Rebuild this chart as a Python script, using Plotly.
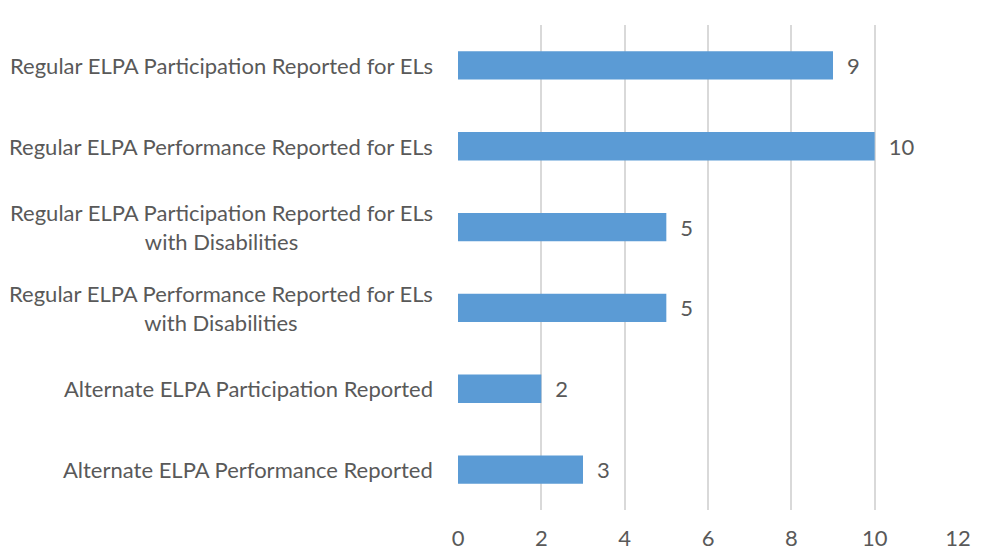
import plotly.graph_objects as go

categories = [
    "Regular ELPA Participation Reported for ELs",
    "Regular ELPA Performance Reported for ELs",
    "Regular ELPA Participation Reported for ELs<br>with Disabilities",
    "Regular ELPA Performance Reported for ELs<br>with Disabilities",
    "Alternate ELPA Participation Reported",
    "Alternate ELPA Performance Reported",
]
values = [9, 10, 5, 5, 2, 3]
x_ticks = [0, 2, 4, 6, 8, 10, 12]

FONT = "Lato"
FONT_SIZE = 22
TEXT_COLOR = "#595959"
BAR_COLOR = "#5B9BD5"

fig = go.Figure()

fig.add_trace(go.Bar(
    x=values,
    y=list(range(len(categories))),
    orientation="h",
    marker=dict(color=BAR_COLOR, line=dict(width=0)),
    text=[f"\u2002{v}" for v in values],
    textposition="outside",
    textfont=dict(family=FONT, size=FONT_SIZE, color=TEXT_COLOR),
    cliponaxis=False,
    width=0.35,
))

# 左側のカテゴリラベル（2行目を中央揃えにするため注釈で描画）
for i, cat in enumerate(categories):
    fig.add_annotation(
        x=0, xref="paper", xshift=-23,
        y=i, yref="y",
        text=cat, showarrow=False,
        xanchor="right", yanchor="middle", align="center",
        font=dict(family=FONT, size=FONT_SIZE, color=TEXT_COLOR),
    )

# ページ本体の余白 8px を差し引いたマージン
fig.update_layout(
    width=986, height=559,
    margin=dict(l=450, r=36, t=17, b=57),
    plot_bgcolor="white",
    paper_bgcolor="white",
    showlegend=False,
    xaxis=dict(
        range=[0, 12],
        tickvals=x_ticks,
        showgrid=True, gridcolor="#D9D9D9", gridwidth=1.5,
        zeroline=False, showline=False,
        tickfont=dict(family=FONT, size=FONT_SIZE, color=TEXT_COLOR),
        ticklabelstandoff=13,
    ),
    yaxis=dict(
        range=[len(categories) - 0.5, -0.5],
        showticklabels=False,
        showgrid=False, zeroline=False, showline=False,
    ),
)

fig.write_html("out.html")
